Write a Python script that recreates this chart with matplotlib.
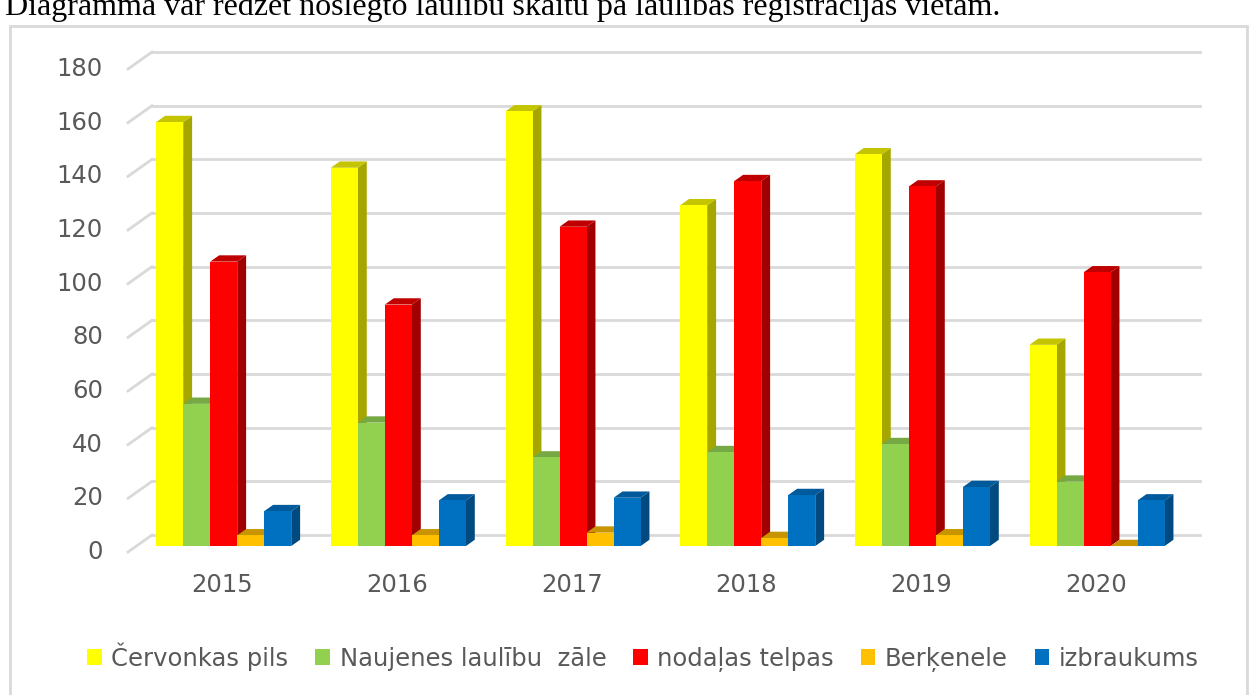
import matplotlib.pyplot as plt
from matplotlib.patches import Polygon, Patch, Rectangle

years = ["2015", "2016", "2017", "2018", "2019", "2020"]
series = ["Červonkas pils", "Naujenes laulību  zāle", "nodaļas telpas", "Berķenele", "izbraukums"]
cervonkas = [158, 141, 162, 127, 146, 75]
naujenes = [53, 46, 33, 35, 38, 24]
nodalas = [106, 90, 119, 136, 134, 102]
berkenele = [4, 4, 5, 3, 4, 0]
izbraukums = [13, 17, 18, 19, 22, 17]
values = [cervonkas, naujenes, nodalas, berkenele, izbraukums]
yticks = [0, 20, 40, 60, 80, 100, 120, 140, 160, 180]

# front, side, top colours
colors = [
    ("#FFFF00", "#A6A600", "#C4C400"),
    ("#92D050", "#6A9A3A", "#76A844"),
    ("#FF0000", "#A00000", "#C00000"),
    ("#FFC000", "#B08400", "#C89400"),
    ("#0070C0", "#004A80", "#005A9C"),
]

W, H = 1251, 695
fig = plt.figure(figsize=(W / 100, H / 100), dpi=100)
ax = fig.add_axes([128 / W, (H - 552) / H, (1200 - 128) / W, (552 - 52) / H])
ax.set_axis_off()

DX = 0.1374   # wall depth in category units
DY = 6.34     # wall depth in value units
ax.set_xlim(-0.5, 5.5 + DX)
ax.set_ylim(0, 180 + DY)

# back wall grid + left wall diagonals
for v in yticks:
    ax.plot([-0.5 + DX, 5.5 + DX], [v + DY, v + DY], color="#D9D9D9", lw=2, zorder=1,
            clip_on=False)
    ax.plot([-0.5, -0.5 + DX], [v, v + DY], color="#D9D9D9", lw=2, zorder=1, clip_on=False)
    ax.text(-0.5 - 25 / 174.67, v, str(v), ha="right", va="center", fontsize=17.5,
            color="#595959")

bw = 0.1546
f0, f1 = 0.35, 0.72
z = 2
for i in range(len(years)):
    for k, vals in enumerate(values):
        v = vals[i]
        x0 = i - 2.5 * bw + k * bw + f0 * DX
        y0 = f0 * DY
        x1 = x0 + bw
        ox = (f1 - f0) * DX
        oy = (f1 - f0) * DY
        front, side, top = colors[k]
        ax.add_patch(Polygon([(x1, y0), (x1 + ox, y0 + oy), (x1 + ox, y0 + v + oy), (x1, y0 + v)],
                             closed=True, facecolor=side, edgecolor="none", zorder=z, clip_on=False))
        ax.add_patch(Polygon([(x0, y0 + v), (x0 + ox, y0 + v + oy), (x1 + ox, y0 + v + oy), (x1, y0 + v)],
                             closed=True, facecolor=top, edgecolor="none", zorder=z, clip_on=False))
        if v > 0:
            ax.add_patch(Rectangle((x0, y0), bw, v, facecolor=front, edgecolor="none", zorder=z,
                                   clip_on=False))
        z += 1
    ax.text(i + 0.3 * DX, -12.3, years[i], ha="center", va="center", fontsize=17.5, color="#595959")

handles = [Patch(facecolor=c[0], edgecolor="none") for c in colors]
fig.legend(handles, series, loc="center", bbox_to_anchor=(643 / W, 1 - 657 / H), ncol=5,
           frameon=False, fontsize=17.5, handlelength=0.6, handleheight=0.6,
           handletextpad=0.4, columnspacing=1.1, labelcolor="#595959")

# outer frame and cut-off caption above
fig.patches.append(Rectangle((10 / W, -0.01), (1247 - 10) / W, 1 - 26 / H + 0.01,
                             transform=fig.transFigure, fill=False, edgecolor="#D9D9D9", lw=2))
fig.text(5 / W, 1 - 15 / H, "Diagramma var redzēt noslēgto laulību skaitu pa laulības reģistrācijas vietām.",
         fontsize=23, family="Liberation Serif", va="baseline", ha="left", color="black")

plt.savefig("out.png", dpi=100)
